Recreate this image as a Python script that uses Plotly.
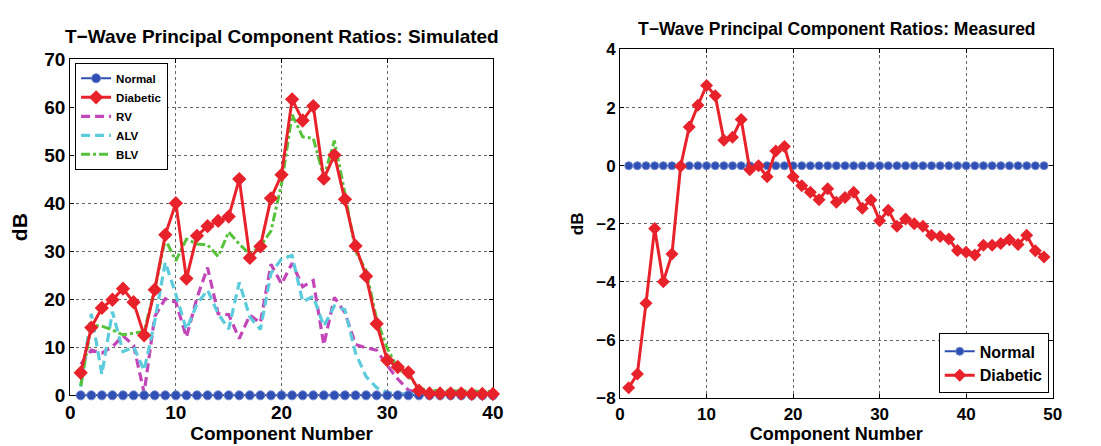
import plotly.graph_objects as go

# ---------------- data: simulated ----------------
sim_x = list(range(1, 41))
sim_normal = [0.0] * 40
sim_diabetic = [4.7, 14.1, 18.2, 19.9, 22.2, 19.4, 12.5, 22.0, 33.4, 40.0,
                24.3, 33.2, 35.2, 36.3, 37.2, 45.0, 28.6, 31.0, 41.0, 45.9,
                61.6, 57.2, 60.2, 45.1, 50.0, 40.8, 31.1, 24.8, 14.9, 7.3,
                5.9, 4.8, 1.0, 0.4, 0.4, 0.4, 0.4, 0.3, 0.3, 0.3]
sim_rv = [6.5, 9.4, 8.8, 10.1, 12.4, 10.4, 0.5, 16.4, 20.1, 19.4,
          12.1, 20.3, 26.6, 17.0, 16.8, 11.8, 16.7, 15.1, 27.3, 23.2,
          27.5, 22.6, 23.9, 10.5, 20.4, 17.2, 10.6, 9.9, 9.4, 6.2,
          3.4, 1.1, 0.5, 0.4, 0.4, 0.3, 0.3, 0.3, 0.3, 0.3]
sim_alv = [1.8, 17.0, 4.4, 17.4, 9.1, 10.1, 5.2, 15.4, 27.7, 21.0,
           13.7, 19.0, 21.9, 17.0, 13.8, 23.5, 16.3, 13.7, 25.4, 28.4,
           29.1, 19.5, 20.6, 14.4, 18.6, 17.8, 8.8, 3.9, 1.6, 0.6,
           0.3, 0.3, 0.3, 0.3, 0.3, 0.3, 0.3, 0.3, 0.3, 0.3]
sim_blv = [2.0, 14.6, 14.4, 13.6, 12.6, 13.0, 13.3, 22.0, 32.5, 28.0,
           32.5, 31.5, 31.3, 28.9, 34.0, 31.5, 29.4, 31.0, 34.2, 44.0,
           58.4, 53.8, 53.5, 45.4, 53.0, 42.0, 30.0, 26.0, 15.8, 9.8,
           5.6, 4.0, 1.5, 1.0, 1.0, 0.9, 0.9, 0.9, 0.8, 0.8]

# ---------------- data: measured ----------------
meas_x = list(range(1, 50))
meas_normal = [0.0] * 49
meas_diabetic = [-7.64, -7.17, -4.73, -2.16, -3.99, -3.04, -0.02, 1.33, 2.08, 2.76,
                 2.41, 0.88, 0.98, 1.59, -0.14, 0.0, -0.38, 0.51, 0.66, -0.38,
                 -0.69, -0.91, -1.17, -0.79, -1.26, -1.09, -0.91, -1.46, -1.18, -1.89,
                 -1.53, -2.08, -1.83, -2.0, -2.08, -2.39, -2.44, -2.52, -2.92, -2.98,
                 -3.07, -2.74, -2.74, -2.68, -2.55, -2.71, -2.39, -2.93, -3.14]

sim_xticks = [0, 10, 20, 30, 40]
sim_yticks = [0, 10, 20, 30, 40, 50, 60, 70]
meas_xticks = [0, 10, 20, 30, 40, 50]
meas_yticks = [-8, -6, -4, -2, 0, 2, 4]

BLUE = "#2f4fb5"
RED = "#e8222b"
MAG = "#c246b8"
CYAN = "#5ccbdc"
GREEN = "#55c23a"
FONT = "Liberation Sans"

W, H = 1101, 446

fig = go.Figure()

# left plot (draw order: dashed first, diabetic on top)
fig.add_trace(go.Scatter(x=sim_x, y=sim_rv, mode="lines", name="RV",
                         line=dict(color=MAG, width=3.2, dash="9px,5px"),
                         xaxis="x", yaxis="y", legend="legend", legendrank=3))
fig.add_trace(go.Scatter(x=sim_x, y=sim_alv, mode="lines", name="ALV",
                         line=dict(color=CYAN, width=3.2, dash="9px,5px"),
                         xaxis="x", yaxis="y", legend="legend", legendrank=4))
fig.add_trace(go.Scatter(x=sim_x, y=sim_blv, mode="lines", name="BLV",
                         line=dict(color=GREEN, width=3, dash="9px,3px,3px,3px"),
                         xaxis="x", yaxis="y", legend="legend", legendrank=5))
fig.add_trace(go.Scatter(x=sim_x, y=sim_normal, mode="lines+markers", name="Normal",
                         line=dict(color=BLUE, width=2),
                         marker=dict(symbol="circle", size=9, color=BLUE,
                                     line=dict(color="#6f86cc", width=1)),
                         cliponaxis=False,
                         xaxis="x", yaxis="y", legend="legend", legendrank=1))
fig.add_trace(go.Scatter(x=sim_x, y=sim_diabetic, mode="lines+markers", name="Diabetic",
                         line=dict(color=RED, width=3),
                         marker=dict(symbol="diamond", size=11, color=RED),
                         cliponaxis=False,
                         xaxis="x", yaxis="y", legend="legend", legendrank=2))

# right plot
fig.add_trace(go.Scatter(x=meas_x, y=meas_normal, mode="lines+markers", name="Normal",
                         line=dict(color=BLUE, width=2),
                         marker=dict(symbol="circle", size=8, color=BLUE,
                                     line=dict(color="#6f86cc", width=1)),
                         cliponaxis=False,
                         xaxis="x2", yaxis="y2", legend="legend2"))
fig.add_trace(go.Scatter(x=meas_x, y=meas_diabetic, mode="lines+markers", name="Diabetic",
                         line=dict(color=RED, width=3),
                         marker=dict(symbol="diamond", size=10, color=RED),
                         cliponaxis=False,
                         xaxis="x2", yaxis="y2", legend="legend2"))

common = dict(showline=True, linecolor="black", linewidth=1, mirror="ticks",
              ticks="inside", ticklen=4, tickcolor="black",
              showgrid=True, gridcolor="#666666", griddash="dot", gridwidth=1,
              zeroline=False, layer="below traces")

fig.update_layout(
    width=W, height=H,
    margin=dict(l=0, r=0, t=0, b=0),
    paper_bgcolor="white", plot_bgcolor="white",
    font=dict(family=FONT, color="black"),
    xaxis=dict(domain=[58 / W, 487 / W], range=[0, 40], tickvals=sim_xticks,
               anchor="y", tickfont=dict(size=19, weight="bold"),
               title=dict(text="Component Number", font=dict(size=19, weight="bold"), standoff=0),
               **common),
    yaxis=dict(domain=[(H - 396) / H, (H - 43) / H], range=[0, 70], tickvals=sim_yticks,
               anchor="x", tickfont=dict(size=19, weight="bold"),
               title=dict(text="dB", font=dict(size=21, weight="bold"), standoff=10),
               **common),
    xaxis2=dict(domain=[616 / W, 1055 / W], range=[0, 50], tickvals=meas_xticks,
                anchor="y2", tickfont=dict(size=17, weight="bold"),
                title=dict(text="Component Number", font=dict(size=18, weight="bold"), standoff=0),
                **common),
    yaxis2=dict(domain=[(H - 399) / H, (H - 33) / H], range=[-8, 4], tickvals=meas_yticks,
                anchor="x2", tickfont=dict(size=17, weight="bold"),
                title=dict(text="dB", font=dict(size=17, weight="bold"), standoff=8),
                **common),
    legend=dict(x=63 / W, y=(H - 47) / H, xanchor="left", yanchor="top",
                bgcolor="white", bordercolor="black", borderwidth=1,
                font=dict(size=11.5, weight="bold"), tracegroupgap=0,
                itemwidth=30),
    legend2=dict(x=1051 / W, y=(H - 394) / H, xanchor="right", yanchor="bottom",
                 bgcolor="white", bordercolor="black", borderwidth=1,
                 font=dict(size=16, weight="bold"), tracegroupgap=0,
                 itemwidth=30),
    annotations=[
        dict(text="T\u2212Wave Principal Component Ratios: Simulated", x=273 / W, y=(H - 19) / H,
             xref="paper", yref="paper", showarrow=False, xanchor="center", yanchor="middle",
             font=dict(size=19, weight="bold", family=FONT)),
        dict(text="T\u2212Wave Principal Component Ratios: Measured", x=836 / W, y=(H - 12) / H,
             xref="paper", yref="paper", showarrow=False, xanchor="center", yanchor="middle",
             font=dict(size=17.5, weight="bold", family=FONT)),
    ],
)

fig.write_html("out.html")
